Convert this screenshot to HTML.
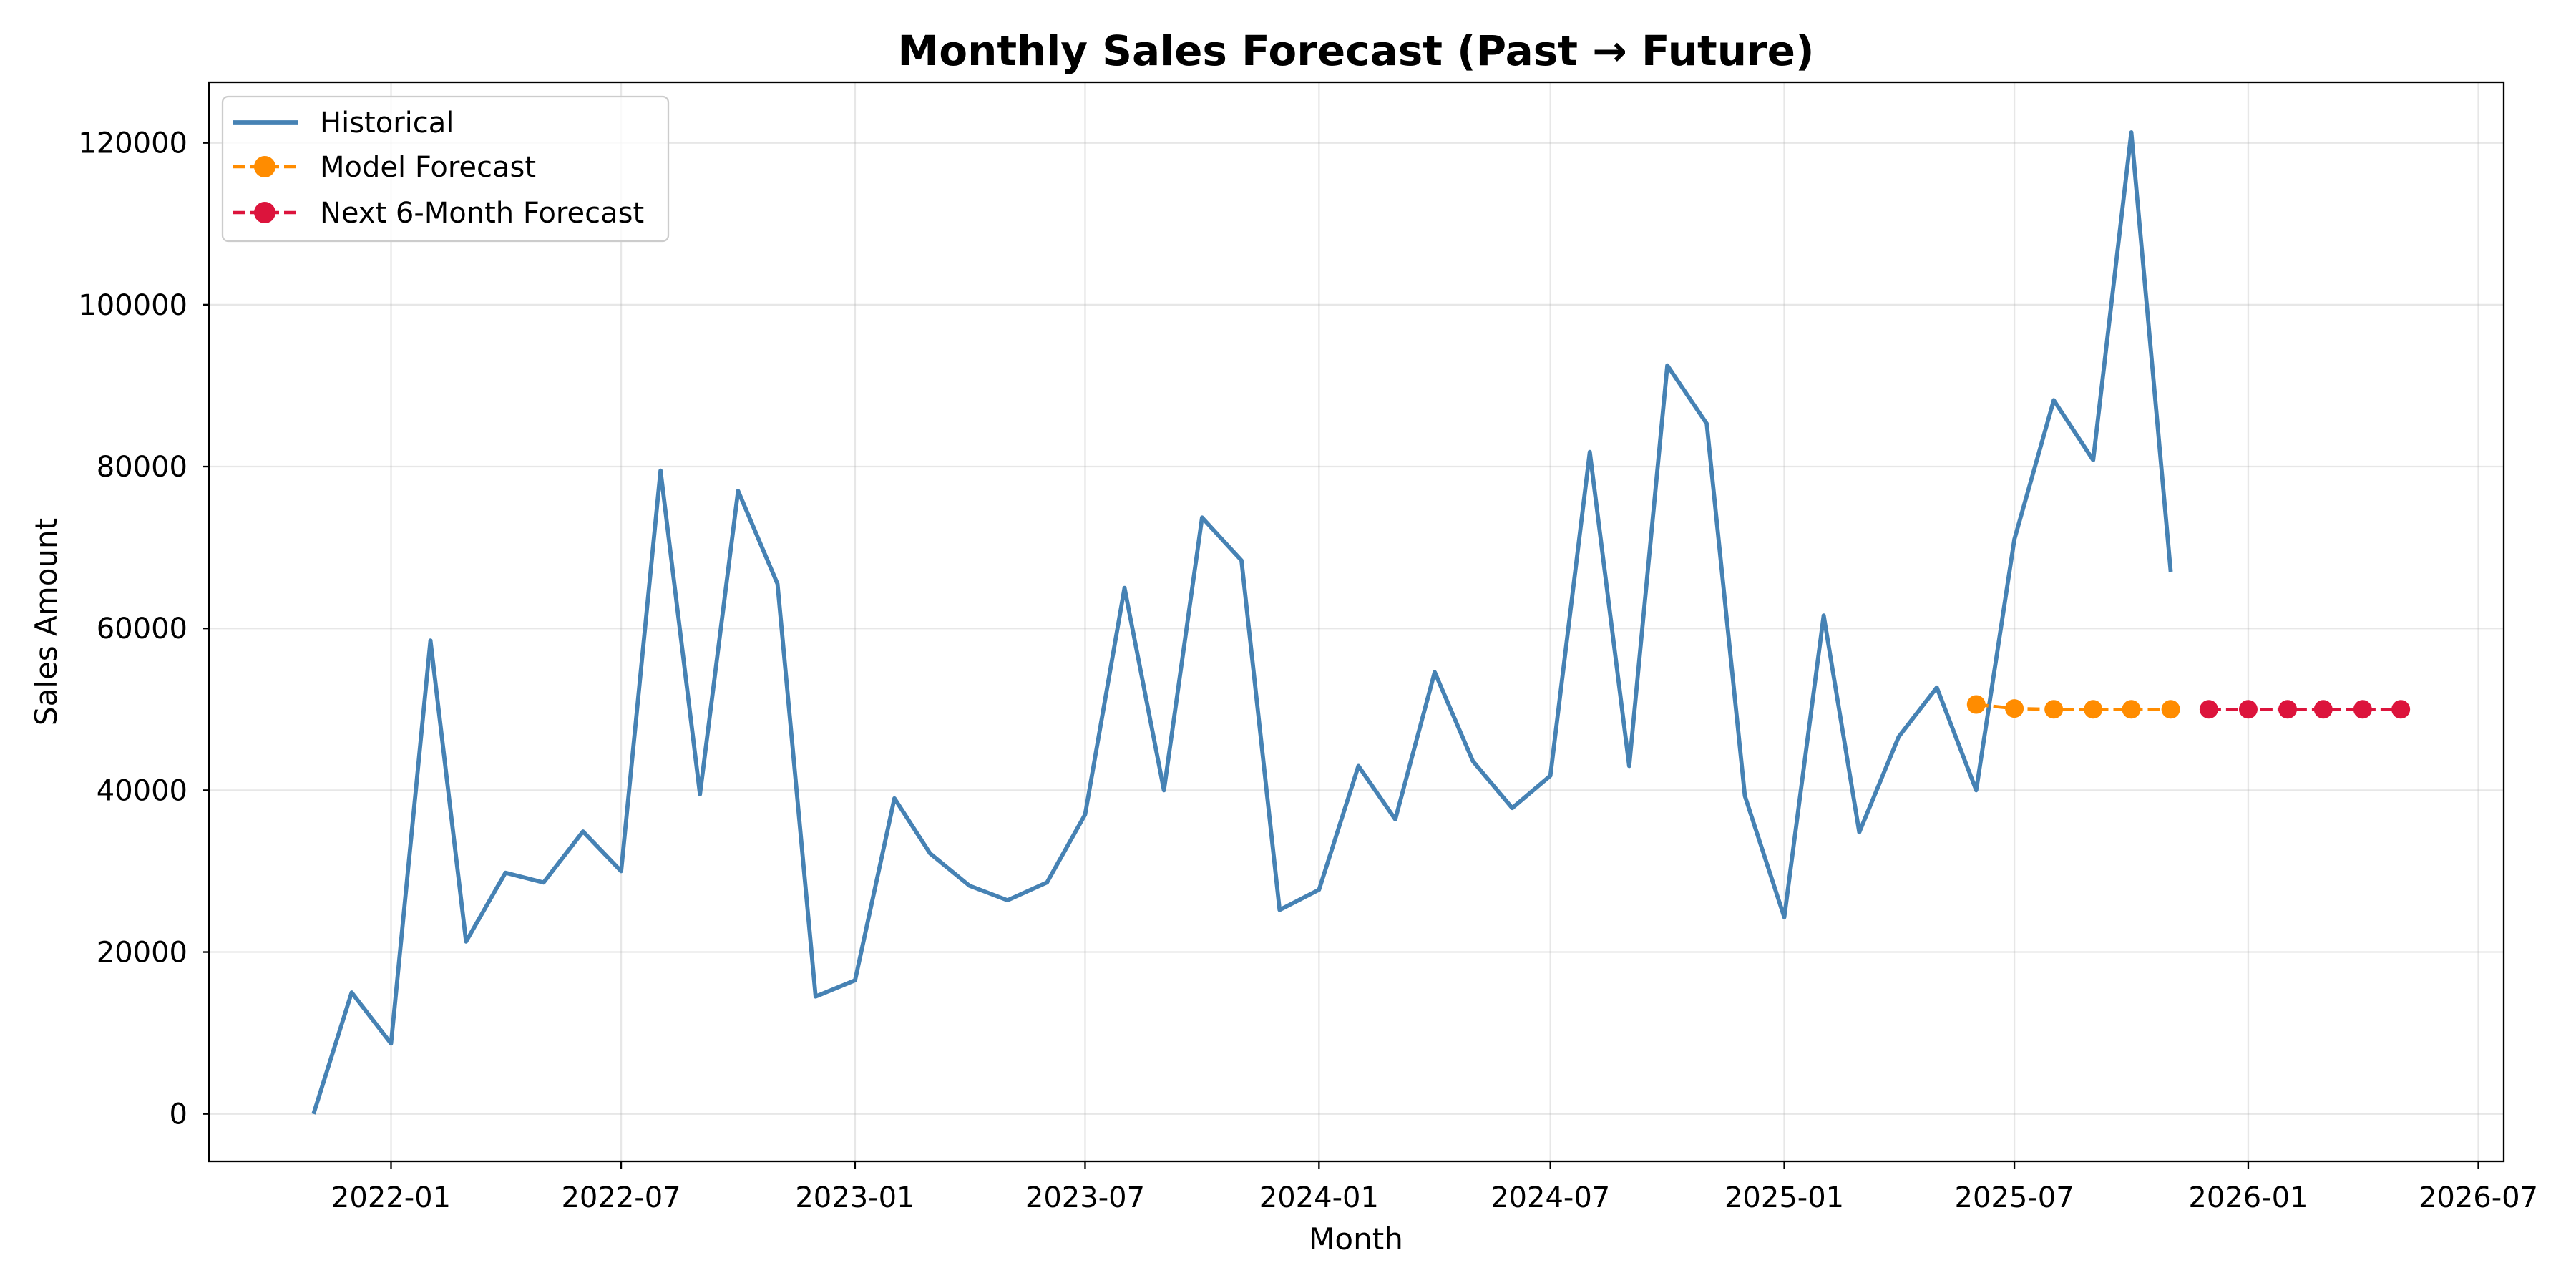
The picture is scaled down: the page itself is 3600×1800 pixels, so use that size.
<!DOCTYPE html>
<html><head><meta charset="utf-8"><style>
html,body{margin:0;padding:0;background:#fff;}
svg{display:block;font-family:"DejaVu Sans","Liberation Sans",sans-serif;}
</style></head><body>
<svg id="chart" width="3600" height="1800" viewBox="0 0 3600 1800" xmlns="http://www.w3.org/2000/svg">
<rect width="3600" height="1800" fill="#fff"/>
<g id="grid"></g><g id="axes"></g><g id="series"></g><g id="legend"></g>
</svg>
<script>
const histStart = [2021, 11];
const histValues = [0,15000,8700,58500,21300,29800,28600,34900,30000,79500,39500,77000,65500,14500,16500,39000,32200,28200,26400,28600,37000,65000,40000,73700,68400,25200,27700,43000,36400,54600,43600,37800,41800,81800,43000,92500,85300,39300,24300,61600,34800,46600,52700,40000,71000,88200,80800,121300,67000];
const modelStart = [2025, 6];
const modelValues = [50600,50100,50000,50000,50000,50000];
const nextStart = [2025, 12];
const nextValues = [50000,50000,50000,50000,50000,50000];
const yTicks = [0,20000,40000,60000,80000,100000,120000];
const xTickLabels = ["2022-01","2022-07","2023-01","2023-07","2024-01","2024-07","2025-01","2025-07","2026-01","2026-07"];

const NS="http://www.w3.org/2000/svg";
const L=292,R=3499,T=115,B=1623;
const DAY=86400000, ORIGIN=Date.UTC(2022,0,1);
function xDate(y,m){return 546.5+(Date.UTC(y,m-1,1)-ORIGIN)/DAY*1.7765;}
function yS(v){return 1556.7-v*(1556.7-199.7)/120000;}
function mk(tag,attrs,parent,text){const e=document.createElementNS(NS,tag);for(const k in attrs)e.setAttribute(k,attrs[k]);if(text!==undefined)e.textContent=text;parent.appendChild(e);return e;}
function monthsFrom(start,i){let m=start[1]-1+i;return [start[0]+Math.floor(m/12),m%12+1];}
const grid=document.getElementById('grid'),axes=document.getElementById('axes'),series=document.getElementById('series'),legend=document.getElementById('legend');

yTicks.forEach(v=>{const y=yS(v);
 const g=mk('line',{x1:L,x2:R,y1:y,y2:y,stroke:'#b0b0b0','stroke-opacity':0.3,'stroke-width':2.3},grid);
 
 
 mk('line',{x1:L-9,x2:L,y1:y,y2:y,stroke:'#000','stroke-width':2.3},axes);
 const t=mk('text',{x:L-30,y:y+14,'text-anchor':'end','font-size':40},axes,String(v));
 
 
});
xTickLabels.forEach(s=>{const p=s.split('-');const x=xDate(+p[0],+p[1]);
 const g=mk('line',{x1:x,x2:x,y1:T,y2:B,stroke:'#b0b0b0','stroke-opacity':0.3,'stroke-width':2.3},grid);
 
 
 mk('line',{x1:x,x2:x,y1:B,y2:B+10,stroke:'#000','stroke-width':2.3},axes);
 const t=mk('text',{x:x,y:B+64,'text-anchor':'middle','font-size':40},axes,s);
 
 
});
const frame=mk('rect',{x:L,y:T,width:R-L,height:B-T,fill:'none',stroke:'#000','stroke-width':2.3},axes);


const title=mk('text',{x:1895,y:91,'text-anchor':'middle','font-size':58,'font-weight':'bold'},axes,'Monthly Sales Forecast (Past → Future)');


const xl=mk('text',{x:1895,y:1746,'text-anchor':'middle','font-size':42},axes,'Month');


const yl=mk('text',{x:79,y:869,'text-anchor':'middle','font-size':42,transform:'rotate(-90 79 869)'},axes,'Sales Amount');



function pts(start,vals){return vals.map((v,i)=>{const d=monthsFrom(start,i);return [xDate(d[0],d[1]),yS(v)];});}
const hp=pts(histStart,histValues);
const hl=mk('polyline',{points:hp.map(p=>p.join(',')).join(' '),fill:'none',stroke:'#4682b4','stroke-width':5.8,'stroke-linejoin':'round'},series);


function dashed(start,vals,color,name){
 const p=pts(start,vals);
 const l=mk('polyline',{points:p.map(q=>q.join(',')).join(' '),fill:'none',stroke:color,'stroke-width':4.6,'stroke-dasharray':'17 7'},series);
 
 
 p.forEach(q=>{const c=mk('circle',{cx:q[0],cy:q[1],r:13,fill:color},series);
  
  });
}
dashed(modelStart,modelValues,'#ff8c00','model-forecast');
dashed(nextStart,nextValues,'#dc143c','next-forecast');

const lb=mk('rect',{x:311,y:135,width:623,height:202,rx:8,fill:'#fff','fill-opacity':0.8,stroke:'#ccc','stroke-width':2.3},legend);


[['Historical','#4682b4',false,171],['Model Forecast','#ff8c00',true,233],['Next 6-Month Forecast','#dc143c',true,297]].forEach(e=>{
 const y=e[3];
 const g=mk('g',{},legend);
 
 
 mk('line',{x1:325,x2:416,y1:y,y2:y,stroke:e[1],'stroke-width':e[2]?4.6:5.8,'stroke-dasharray':e[2]?'17 7':'none'},g);
 if(e[2])mk('circle',{cx:370,cy:y,r:15,fill:e[1]},g);
 mk('text',{x:447,y:y+14,'font-size':40},g,e[0]);
});
</script>
</body></html>
